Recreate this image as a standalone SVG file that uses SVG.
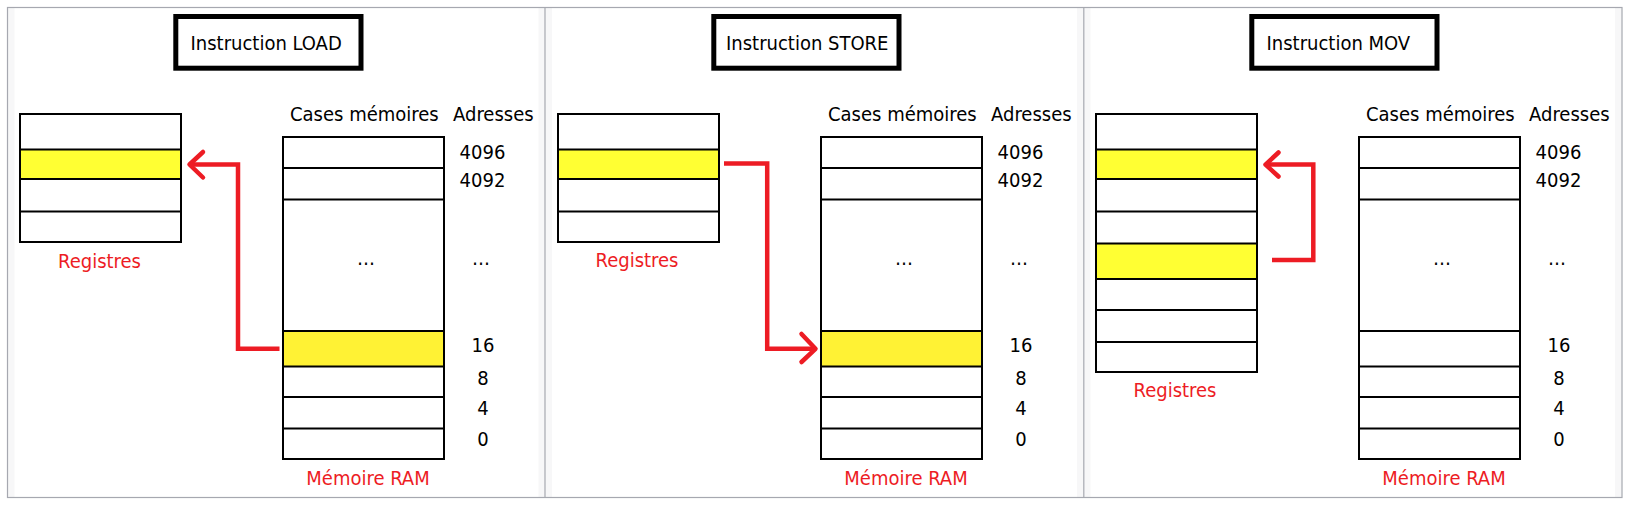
<svg xmlns="http://www.w3.org/2000/svg" width="1632" height="509" viewBox="0 0 1632 509">
<style>
  text { font-family: 'DejaVu Sans Condensed', 'DejaVu Sans', sans-serif; font-stretch: condensed; font-size: 20px; fill: #000; }
  .red { fill: #ed1c24; }
  .mid { text-anchor: middle; }
  .cell { fill: #fff; stroke: #000; stroke-width: 2; }
  .line { stroke: #000; stroke-width: 2; fill: none; }
  .ry { fill: #ffff33; }
  .my { fill: #fff234; }
  .title { fill: #fff; stroke: #000; stroke-width: 5; }
  .arrow { fill: none; stroke: #ed1c24; stroke-width: 4.5; stroke-linejoin: miter; }
  .head { fill: none; stroke: #ed1c24; stroke-width: 4.5; stroke-linecap: round; stroke-linejoin: round; }
  .strip { fill: #f7f7f8; }
  .frame { fill: none; stroke: #a6a8b0; stroke-width: 1.2; }
</style>
<defs>
  <g id="mem">
    <path class="line" d="M283 168H444M283 199.5H444M283 331H444M283 366.5H444M283 397H444M283 428.5H444"/>
    <text x="290" y="121">Cases mémoires</text>
    <text x="453" y="121">Adresses</text>
    <text class="mid" x="482.5" y="158.5">4096</text>
    <text class="mid" x="482.5" y="187">4092</text>
    <text class="mid" x="366" y="265">…</text>
    <text class="mid" x="481" y="265">…</text>
    <text class="mid" x="483" y="352">16</text>
    <text class="mid" x="483" y="384.5">8</text>
    <text class="mid" x="483" y="415">4</text>
    <text class="mid" x="483" y="446">0</text>
    <text class="mid red" x="368" y="485">Mémoire RAM</text>
  </g>
</defs>

<g id="background">
  <rect x="0" y="0" width="1632" height="509" fill="#fff"/>
  <rect class="strip" x="8" y="8" width="6.5" height="489"/>
  <rect class="strip" x="538.5" y="8" width="6.5" height="489"/>
  <rect class="strip" x="545.5" y="8" width="6.5" height="489"/>
  <rect class="strip" x="1077" y="8" width="6.5" height="489"/>
  <rect class="strip" x="1084" y="8" width="6.5" height="489"/>
  <rect class="strip" x="1615" y="8" width="6.5" height="489"/>
  <rect class="frame" x="7.5" y="7.5" width="1614.5" height="490"/>
  <path class="frame" d="M545 7.5V497.5M1083.8 7.5V497.5"/>
</g>

<!-- Panel 1: LOAD -->
<g id="title-load">
  <rect class="title" x="175.8" y="16.5" width="185.2" height="51.7"/>
  <text x="190.5" y="50">Instruction LOAD</text>
</g>
<g id="registers-load">
  <rect class="cell" x="20" y="114" width="161" height="128"/>
  <rect class="ry" x="21" y="149.5" width="159" height="29.5"/>
  <path class="line" d="M20 149.5H181M20 179H181M20 211.5H181"/>
  <text class="mid red" x="99.5" y="267.5">Registres</text>
</g>
<g id="memory-load">
  <rect class="cell" x="283" y="137" width="161" height="322"/>
  <rect class="my" x="284" y="331" width="159" height="35.5"/>
  <use href="#mem"/>
</g>

<!-- Panel 2: STORE -->
<g id="title-store">
  <rect class="title" x="713.8" y="16.5" width="185.2" height="51.7"/>
  <text x="726" y="50">Instruction STORE</text>
</g>
<g id="registers-store">
  <rect class="cell" x="558" y="114" width="161" height="128"/>
  <rect class="ry" x="559" y="149.5" width="159" height="29.5"/>
  <path class="line" d="M558 149.5H719M558 179H719M558 211.5H719"/>
  <text class="mid red" x="637" y="267">Registres</text>
</g>
<g id="memory-store">
  <rect class="cell" x="821" y="137" width="161" height="322"/>
  <rect class="my" x="822" y="331" width="159" height="35.5"/>
  <use href="#mem" x="538"/>
</g>

<!-- Panel 3: MOV -->
<g id="title-mov">
  <rect class="title" x="1251.8" y="16.5" width="185.2" height="51.7"/>
  <text x="1266.5" y="50">Instruction MOV</text>
</g>
<g id="registers-mov">
  <rect class="cell" x="1096" y="114" width="161" height="258"/>
  <rect class="ry" x="1097" y="149.5" width="159" height="29.5"/>
  <rect class="ry" x="1097" y="243.5" width="159" height="35.5"/>
  <path class="line" d="M1096 149.5H1257M1096 179H1257M1096 211.5H1257M1096 243.5H1257M1096 279H1257M1096 310H1257M1096 342H1257"/>
  <text class="mid red" x="1175" y="397">Registres</text>
</g>
<g id="memory-mov">
  <rect class="cell" x="1359" y="137" width="161" height="322"/>
  <use href="#mem" x="1076"/>
</g>

<g id="connectors">
  <path class="arrow" d="M279.5 348.7H238V164.5H190"/>
  <path class="head" d="M203 152L189.5 164.5L203 177.5"/>
  <path class="arrow" d="M724 163.5H767.2V348.8H815"/>
  <path class="head" d="M801.5 334L815.5 348.8L801.5 362"/>
  <path class="arrow" d="M1272 260H1313.3V164.6H1266"/>
  <path class="head" d="M1278.5 152.5L1265.5 164.6L1278.5 176.5"/>
</g>
</svg>
